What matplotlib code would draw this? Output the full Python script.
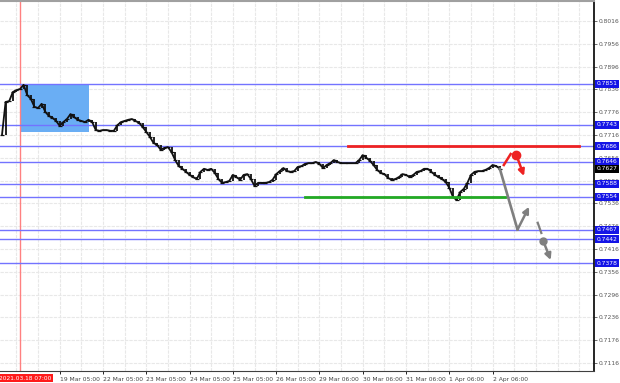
import matplotlib
matplotlib.use('Agg')
import matplotlib.pyplot as plt
import matplotlib.transforms as mtransforms
from matplotlib.patches import Rectangle
import numpy as np

# ---------------- data ----------------
close = [
    0.7716, 0.7803, 0.7805, 0.7829, 0.7834, 0.7837, 0.7848, 0.7821, 0.7811, 0.7790,
    0.7787, 0.7798, 0.7777, 0.7766, 0.7761, 0.7753, 0.7740, 0.7750, 0.7758, 0.7771,
    0.7763, 0.7756, 0.7753, 0.7750, 0.7756, 0.7750, 0.7729, 0.7727, 0.7729, 0.7729,
    0.7727, 0.7727, 0.7742, 0.7750, 0.7753, 0.7756, 0.7758, 0.7753, 0.7748, 0.7737,
    0.7724, 0.7711, 0.7695, 0.7690, 0.7677, 0.7682, 0.7684, 0.7671, 0.7650, 0.7634,
    0.7627, 0.7619, 0.7611, 0.7605, 0.7600, 0.7619, 0.7627, 0.7624, 0.7627, 0.7616,
    0.7600, 0.7590, 0.7592, 0.7595, 0.7611, 0.7605, 0.7598, 0.7611, 0.7613, 0.7600,
    0.7582, 0.7590, 0.7590, 0.7590, 0.7592, 0.7598, 0.7613, 0.7621, 0.7629, 0.7621,
    0.7619, 0.7621, 0.7632, 0.7634, 0.7640, 0.7642, 0.7642, 0.7645, 0.7640, 0.7629,
    0.7637, 0.7642, 0.7650, 0.7645, 0.7642, 0.7642, 0.7642, 0.7642, 0.7642, 0.7650,
    0.7663, 0.7656, 0.7648, 0.7637, 0.7624, 0.7616, 0.7613, 0.7603, 0.7598, 0.7600,
    0.7605, 0.7613, 0.7611, 0.7605, 0.7611, 0.7619, 0.7621, 0.7627, 0.7627, 0.7619,
    0.7611, 0.7605, 0.7600, 0.7592, 0.7577, 0.7553, 0.7545, 0.7566, 0.7574, 0.7590,
    0.7611, 0.7619, 0.7621, 0.7621, 0.7624, 0.7629, 0.7637, 0.7634, 0.7627,
]

tick_steps = [16, 28, 40, 52, 64, 76, 88, 100, 112, 124, 136]
tick_labels = ['19 Mar 05:00', '22 Mar 05:00', '23 Mar 05:00', '24 Mar 05:00',
               '25 Mar 05:00', '26 Mar 05:00', '29 Mar 06:00', '30 Mar 06:00',
               '31 Mar 06:00', '1 Apr 06:00', '2 Apr 06:00']
marker_step = 5
marker_label = '2021.03.18 07:00'

price_ticks = [0.7116, 0.7176, 0.7236, 0.7296, 0.7356, 0.7416, 0.7476, 0.7536,
               0.7596, 0.7656, 0.7716, 0.7776, 0.7836, 0.7896, 0.7956, 0.8016]
levels = [0.7851, 0.7743, 0.7686, 0.7646, 0.7588, 0.7554, 0.7467, 0.7442, 0.7378]
current_price = 0.7627

box_steps = [5, 24.1]
box_prices = [0.7724, 0.7851]

resist_steps = [96, 160]
resist_price = 0.7686
support_steps = [84, 139.4]
support_price = 0.7554

gray_path_x = [138, 142.9]
gray_path_y = [0.7627, 0.7467]
gray_up_x = [142.9, 146.1]
gray_up_y = [0.7467, 0.7527]
gray_dash_x = [148.5, 149.5]
gray_dash_y = [0.7485, 0.7458]
gray_down_x = [150.0, 152.1]
gray_down_y = [0.7438, 0.7387]
red_line_x = [139.1, 141.0]
red_line_y = [0.7637, 0.7666]
red_down_x = [142.6, 144.7]
red_down_y = [0.7663, 0.7608]

# ---------------- figure ----------------
W, H = 620, 383
fig = plt.figure(figsize=(W / 100, H / 100), dpi=100)
ax = fig.add_axes([0, 12 / H, 594 / W, 370 / H])
ax.set_xlim(-0.55, 164.1)
ax.set_ylim(0.70949, 0.80686)

# grid
for s in range(tick_steps[0] - 12, 170, 6):
    ax.axvline(s, color='#e8e8e8', lw=0.8, ls=(0, (3, 1)), zorder=0)
for p in price_ticks:
    ax.axhline(p, color='#e8e8e8', lw=0.8, ls=(0, (3, 1)), zorder=0)

# blue box
ax.add_patch(Rectangle((box_steps[0], box_prices[0]), box_steps[1] - box_steps[0],
                       box_prices[1] - box_prices[0], facecolor='#6aaef4',
                       edgecolor='none', zorder=1))

# red vertical marker
ax.axvline(marker_step, color='#ff8080', lw=1.0, zorder=1.5)

# levels
for lv in levels:
    ax.axhline(lv, color='#7373ff', lw=1.0, zorder=2)

# price series
step = np.arange(len(close))
c = np.array(close)
lo = np.minimum(c, np.roll(c, 1)); lo[0] = c[0]
hi = np.maximum(c, np.roll(c, 1)); hi[0] = c[0]
ax.vlines(step, lo, hi, color='#111111', lw=1.3, zorder=3)
ax.plot(step, c, color='#111111', lw=1.3, zorder=3)
ax.plot(step, c, color='#111111', lw=0, marker='_', ms=3.0, mew=0.9, zorder=3)

# support / resistance
ax.plot(resist_steps, [resist_price] * 2, color='#ee2222', lw=2.0, zorder=4)
ax.plot(support_steps, [support_price] * 2, color='#22aa22', lw=2.0, zorder=4)

# forecast
gray = '#7f7f7f'
ax.plot(gray_path_x, gray_path_y, color=gray, lw=1.9, zorder=4)
ax.annotate('', xy=(gray_up_x[1], gray_up_y[1]), xytext=(gray_up_x[0], gray_up_y[0]),
            arrowprops=dict(arrowstyle='-|>', color=gray, lw=1.8, mutation_scale=9,
                            shrinkA=0, shrinkB=0), zorder=4)
ax.plot(gray_dash_x, gray_dash_y, color=gray, lw=1.6, zorder=4)
ax.plot(gray_down_x[0], gray_down_y[0], 'o', color=gray, ms=5, zorder=5)
ax.annotate('', xy=(gray_down_x[1], gray_down_y[1]), xytext=(gray_down_x[0], gray_down_y[0]),
            arrowprops=dict(arrowstyle='-|>', color=gray, lw=1.8, mutation_scale=9,
                            shrinkA=0, shrinkB=0), zorder=4)
red = '#ee2222'
ax.plot(red_line_x, red_line_y, color=red, lw=1.8, zorder=4)
ax.plot(red_down_x[0], red_down_y[0], 'o', color=red, ms=6, zorder=5)
ax.annotate('', xy=(red_down_x[1], red_down_y[1]), xytext=(red_down_x[0], red_down_y[0]),
            arrowprops=dict(arrowstyle='-|>', color=red, lw=1.8, mutation_scale=9,
                            shrinkA=0, shrinkB=0), zorder=4)

# axes styling
ax.spines['left'].set_visible(False)
ax.spines['top'].set_color('#a0a0a0')
ax.spines['top'].set_linewidth(1.5)
ax.spines['right'].set_color('black')
ax.spines['right'].set_linewidth(1.2)
ax.spines['bottom'].set_color('#404040')
ax.spines['bottom'].set_linewidth(0.8)

ax.yaxis.tick_right()
ax.set_yticks(price_ticks)
ax.set_yticklabels([f'{p:.4f}' for p in price_ticks])
ax.tick_params(axis='y', length=2, width=0.6, pad=1.5, labelsize=4.3,
               labelcolor='#555555', color='#555555')
ax.set_xticks(tick_steps)
ax.set_xticklabels(tick_labels)
ax.tick_params(axis='x', length=2.5, width=0.6, pad=1.5, labelsize=4.3,
               labelcolor='#444444')
for lab in ax.get_xticklabels():
    lab.set_horizontalalignment('left')

# right-side level labels
tr = mtransforms.blended_transform_factory(ax.transAxes, ax.transData)
for lv in levels:
    ax.text(1.004, lv, f'{lv:.4f}', transform=tr, fontsize=4.3, color='white',
            va='center', ha='left', zorder=10,
            bbox=dict(boxstyle='square,pad=0.25', fc='#1414e6', ec='none'))
ax.text(1.004, current_price, f'{current_price:.4f}', transform=tr, fontsize=4.3,
        color='white', va='center', ha='left', zorder=10,
        bbox=dict(boxstyle='square,pad=0.25', fc='black', ec='none'))

# bottom red time marker label
trx = mtransforms.blended_transform_factory(ax.transData, ax.transAxes)
ax.text(marker_step + 1.4, -0.013, marker_label, transform=trx, fontsize=4.2,
        color='white', va='top', ha='center', zorder=10,
        bbox=dict(boxstyle='square,pad=0.25', fc='#ff1a1a', ec='none'))

fig.savefig('out.png', dpi=100)
